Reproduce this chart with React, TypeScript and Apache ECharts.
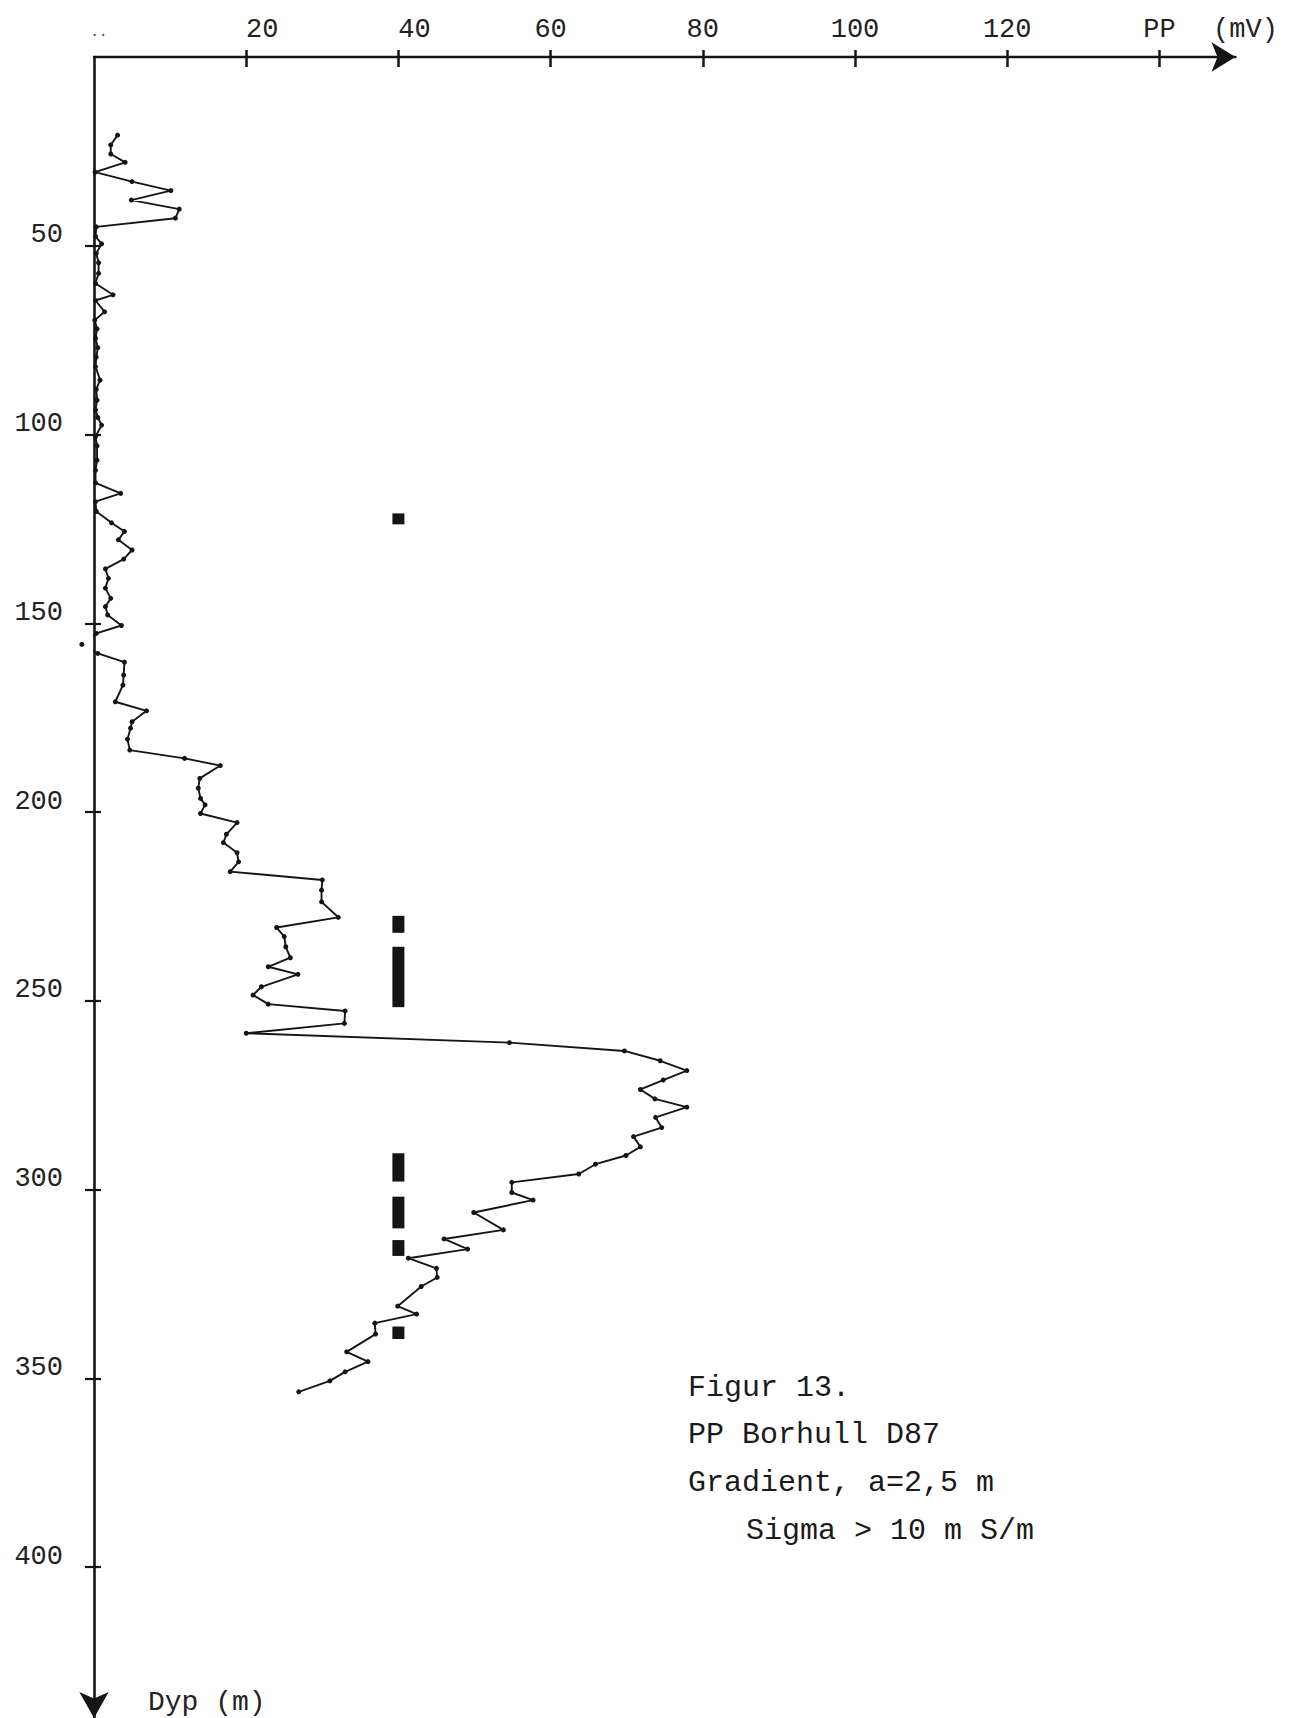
import React, { useEffect, useRef } from "react";
import * as echarts from "echarts";

// Depth (m) of each measured point, top to bottom
const depthM: number[] = [
  20.7, 23.3, 25.7, 27.9, 30.5, 33.0, 35.4, 37.9, 40.3, 42.7,
  45.0, 47.5, 49.5, 52.0, 54.5, 57.3, 60.0, 63.0, 64.5, 67.5,
  69.7, 72.0, 74.5, 77.0, 79.5, 82.0, 85.6, 88.0, 90.9, 93.5,
  95.5, 97.5, 100.6, 103.0, 106.8, 109.5, 112.8, 115.6, 117.8, 120.4,
  123.4, 125.7, 127.9, 130.6, 133.0, 135.6, 138.1, 140.7, 143.4, 145.6,
  147.8, 150.6, 152.7, 155.6, 158.0, 160.3, 163.7, 166.4, 170.8, 173.2,
  176.1, 177.8, 180.7, 183.6, 185.8, 187.7, 191.1, 193.7, 196.4, 198.1,
  200.4, 202.8, 205.9, 208.1, 210.8, 213.2, 215.8, 218.0, 220.7, 223.8,
  227.9, 230.6, 233.0, 235.7, 238.6, 241.0, 243.0, 246.3, 248.5, 250.9,
  252.7, 256.0, 258.6, 261.1, 263.3, 265.9, 268.5, 271.0, 273.5, 276.0,
  278.2, 280.9, 283.6, 286.0, 288.7, 291.0, 293.3, 295.9, 298.1, 300.8,
  302.8, 306.1, 310.7, 313.1, 315.8, 318.2, 320.9, 323.3, 325.7, 330.9,
  333.0, 335.4, 338.3, 343.0, 345.6, 348.3, 350.7, 353.6,
];

// PP (mV) at each depth
const ppMv: number[] = [
  3.1, 2.2, 2.2, 4.1, 0.15, 5.0, 10.1, 4.9, 11.2, 10.7,
  0.3, 0.2, 1.0, 0.3, 0.6, 0.6, 0.2, 2.5, 0.2, 1.4,
  0.1, 0.4, 0.2, 0.5, 0.3, 0.2, 0.8, 0.3, 0.4, 0.2,
  0.5, 1.0, 0.2, 0.4, 0.4, 0.2, 0.2, 3.5, 0.2, 0.3,
  2.3, 4.0, 3.2, 5.0, 3.9, 1.5, 1.9, 1.5, 2.2, 1.5,
  1.8, 3.6, 0.3, -1.6, 0.5, 4.0, 3.9, 3.8, 2.8, 6.9,
  5.0, 4.8, 4.4, 4.7, 11.9, 16.6, 13.9, 13.7, 14.0, 14.6,
  14.0, 18.8, 17.4, 17.0, 18.8, 19.0, 17.9, 30.0, 29.9, 29.9,
  32.1, 24.0, 25.0, 25.2, 25.8, 22.9, 26.8, 22.0, 20.9, 22.9,
  33.0, 32.9, 20.0, 54.6, 69.7, 74.4, 77.9, 74.8, 71.8, 73.7,
  77.9, 73.8, 74.6, 70.9, 71.8, 69.9, 65.9, 63.7, 54.9, 54.9,
  57.7, 49.9, 53.8, 46.0, 49.1, 41.3, 45.0, 45.1, 43.0, 39.9,
  42.4, 36.9, 37.0, 33.2, 36.0, 33.0, 31.0, 26.9,
];

// Conductive zones (Sigma > 10 mS/m), drawn as bars at 40 mV
const zoneX = 40;
const zoneTop: number[] = [120.9, 227.5, 235.7, 290.4, 301.9, 313.4, 336.3];
const zoneBottom: number[] = [123.8, 232.0, 251.7, 297.9, 310.3, 317.6, 339.6];

// Axis ticks / labels
const xTickValues: number[] = [20, 40, 60, 80, 100, 120, 140];
const xLabelValues: number[] = [0, 20, 40, 60, 80, 100, 120, 140, 150];
const yTickValues: number[] = [50, 100, 150, 200, 250, 300, 350, 400];

const captionLines: string[] = [
  "Figur 13.",
  "PP Borhull D87",
  "Gradient, a=2,5 m",
  "Sigma > 10 m S/m",
];

const MONO = "'Liberation Mono', 'DejaVu Sans Mono', monospace";
const INK = "#151515";

export default function App() {
  const ref = useRef<HTMLDivElement>(null);

  useEffect(() => {
    document.body.style.margin = "0";
    if (!ref.current) return;
    const chart = echarts.init(ref.current, undefined, { renderer: "svg" });

    const curve = depthM.map((d, i) => [ppMv[i], d]);
    const zones = zoneTop.map((t, i) => [zoneX, t, zoneBottom[i]]);

    const xMax = 150;
    const yMax = 440;

    const option: any = {
      animation: false,
      backgroundColor: "#ffffff",
      grid: {
        left: 94,
        top: 57,
        width: xMax * 7.61,
        height: yMax * 3.775,
        containLabel: false,
        outerBoundsMode: "none",
      },
      xAxis: [
        {
          type: "value",
          position: "top",
          min: 0,
          max: xMax,
          splitLine: { show: false },
          axisLine: {
            show: true,
            onZero: false,
            lineStyle: { color: INK, width: 2.4 },
            symbol: ["none", "arrow"],
            symbolSize: [22, 24],
          },
          axisTick: {
            show: true,
            length: 7,
            customValues: xTickValues,
            lineStyle: { color: INK, width: 2.5 },
          },
          axisLabel: {
            show: true,
            customValues: xLabelValues,
            margin: 14,
            fontFamily: MONO,
            fontSize: 27,
            color: "#222",
            formatter: (v: number) => {
              if (v === 0) return "{dot|..}";
              if (v === 20 || v === 40) return "{l|" + v + "}";
              if (v === 140) return "PP";
              if (v === xMax) return "{mv|(mV)}";
              return String(v);
            },
            rich: {
              dot: { fontFamily: MONO, fontSize: 14, color: "#444", padding: [0, 0, 4, 10] },
              l: { fontFamily: MONO, fontSize: 27, color: "#222", padding: [0, 0, 0, 32] },
              mv: { fontFamily: MONO, fontSize: 27, color: "#222", padding: [0, 0, 0, 20] },
            },
          },
        },
        {
          type: "value",
          position: "top",
          min: 0,
          max: xMax,
          splitLine: { show: false },
          axisLine: { show: false, onZero: false },
          axisTick: {
            show: true,
            inside: true,
            length: 10,
            customValues: xTickValues,
            lineStyle: { color: INK, width: 2.5 },
          },
          axisLabel: { show: false },
        },
      ],
      yAxis: [
        {
          type: "value",
          position: "left",
          inverse: true,
          min: 0,
          max: yMax,
          splitLine: { show: false },
          axisLine: {
            show: true,
            onZero: false,
            lineStyle: { color: INK, width: 2.6 },
            symbol: ["arrow", "none"],
            symbolSize: [22, 26],
          },
          axisTick: {
            show: true,
            length: 9,
            customValues: yTickValues,
            lineStyle: { color: INK, width: 2.2 },
          },
          axisLabel: {
            show: true,
            customValues: yTickValues,
            margin: 31,
            fontFamily: MONO,
            fontSize: 27,
            lineHeight: 21,
            verticalAlign: "bottom",
            color: "#222",
          },
        },
        {
          type: "value",
          position: "left",
          inverse: true,
          min: 0,
          max: yMax,
          splitLine: { show: false },
          axisLine: { show: false, onZero: false },
          axisTick: {
            show: true,
            inside: true,
            length: 7,
            customValues: yTickValues,
            lineStyle: { color: INK, width: 2.2 },
          },
          axisLabel: { show: false },
        },
      ],
      series: [
        {
          type: "custom",
          xAxisIndex: 0,
          yAxisIndex: 0,
          encode: { x: 0, y: [1, 2] },
          data: zones,
          renderItem: (_params: any, api: any) => {
            const p1 = api.coord([api.value(0), api.value(1)]);
            const p2 = api.coord([api.value(0), api.value(2)]);
            return {
              type: "rect",
              shape: { x: p1[0] - 6, y: p1[1], width: 12, height: p2[1] - p1[1] },
              style: { fill: INK },
            };
          },
          z: 2,
        },
        {
          type: "line",
          xAxisIndex: 0,
          yAxisIndex: 0,
          data: curve,
          clip: false,
          symbol: "circle",
          symbolSize: 5,
          showSymbol: true,
          showAllSymbol: true,
          lineStyle: { color: INK, width: 1.9 },
          itemStyle: { color: INK },
          z: 3,
        },
      ],
      graphic: [
        {
          type: "text",
          left: 148,
          top: 1688,
          style: { text: "Dyp (m)", font: `28px ${MONO}`, fill: "#222" },
        },
        ...captionLines.map((line, i) => ({
          type: "text",
          x: i === 3 ? 746 : 688,
          y: [1388, 1435, 1483, 1531][i],
          style: {
            text: line,
            font: `30px ${MONO}`,
            fill: "#1a1a1a",
            verticalAlign: "middle",
          },
        })),
      ],
    };

    chart.setOption(option);
    return () => chart.dispose();
  }, []);

  return <div ref={ref} style={{ width: 1293, height: 1718 }} />;
}
